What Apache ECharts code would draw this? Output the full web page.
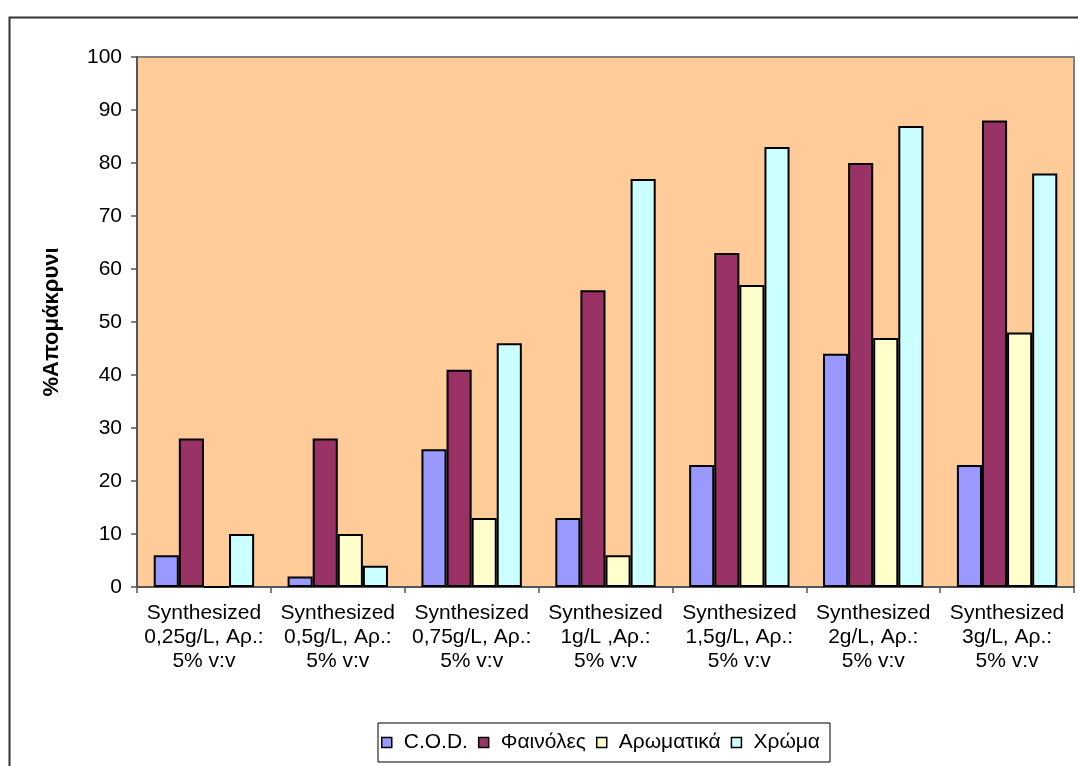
<!DOCTYPE html>
<html>
<head>
<meta charset="utf-8">
<script src="https://cdn.jsdelivr.net/npm/echarts@6/dist/echarts.min.js"></script>
<style>
  html, body { margin: 0; padding: 0; background: #ffffff; }
  #chart { width: 1078px; height: 766px; }
</style>
</head>
<body>
<div id="chart"></div>
<script>
// Sample labels (concentration, aromatic content)
const categories = [
  'Synthesized\n0,25g/L, Αρ.:\n5% v:v',
  'Synthesized\n0,5g/L, Αρ.:\n5% v:v',
  'Synthesized\n0,75g/L, Αρ.:\n5% v:v',
  'Synthesized\n1g/L ,Αρ.:\n5% v:v',
  'Synthesized\n1,5g/L, Αρ.:\n5% v:v',
  'Synthesized\n2g/L, Αρ.:\n5% v:v',
  'Synthesized\n3g/L, Αρ.:\n5% v:v'
];

// Removal percentages per parameter
const cod        = [6, 2, 26, 13, 23, 44, 23];
const phenols    = [28, 28, 41, 56, 63, 80, 88];
const aromatics  = [0, 10, 13, 6, 57, 47, 48];
const colour     = [10, 4, 46, 77, 83, 87, 78];

const seriesNames = ['C.O.D.', 'Φαινόλες', 'Αρωματικά', 'Χρώμα'];
const seriesColors = ['#9999FF', '#993366', '#FFFFCC', '#CCFFFF'];
const seriesData = [cod, phenols, aromatics, colour];

const FONT = '"Liberation Sans", Arial, sans-serif';

const chart = echarts.init(document.getElementById('chart'), null, { renderer: 'canvas' });

chart.setOption({
  animation: false,
  backgroundColor: '#ffffff',
  textStyle: { fontFamily: FONT, color: '#000' },
  graphic: [{
    type: 'rect',
    shape: { x: 9.5, y: 17.5, width: 1200, height: 900 },
    style: { fill: 'none', stroke: '#333333', lineWidth: 2 },
    z: 0
  }],
  grid: {
    left: 137, top: 57, right: 4, bottom: 179,
    show: true,
    backgroundColor: '#FFCC99',
    borderColor: '#808080',
    borderWidth: 2
  },
  legend: {
    data: seriesNames,
    left: 378, top: 723,
    orient: 'horizontal',
    padding: [9, 10, 9, 3],
    itemGap: 10,
    itemWidth: 10, itemHeight: 10,
    icon: 'rect',
    borderColor: '#000',
    borderWidth: 1,
    backgroundColor: '#fff',
    itemStyle: { borderColor: '#000', borderWidth: 1.5 },
    textStyle: { fontFamily: FONT, fontSize: 21, color: '#000', padding: [0, 0, 0, 7] }
  },
  xAxis: {
    type: 'category',
    data: categories,
    axisLine: { lineStyle: { color: '#555', width: 2 } },
    axisTick: { show: true, length: 6, lineStyle: { color: '#555', width: 1.5 } },
    axisLabel: {
      interval: 0,
      margin: 14,
      fontFamily: FONT,
      fontSize: 21,
      lineHeight: 24,
      color: '#000'
    },
    splitLine: { show: false }
  },
  yAxis: {
    type: 'value',
    min: 0, max: 100, interval: 10,
    name: '%Απομάκρυνι',
    nameLocation: 'middle',
    nameGap: 74,
    nameRotate: 90,
    nameTextStyle: { fontFamily: FONT, fontSize: 22, fontWeight: 'bold', color: '#000' },
    axisLine: { show: true, lineStyle: { color: '#555', width: 2 } },
    axisTick: { show: true, length: 6, lineStyle: { color: '#555', width: 1.5 } },
    axisLabel: { fontFamily: FONT, fontSize: 21, color: '#000', margin: 15 },
    splitLine: { show: false }
  },
  series: seriesNames.map((name, i) => ({
    name: name,
    type: 'bar',
    data: seriesData[i],
    barGap: '0%',
    barCategoryGap: '25%',
    itemStyle: { color: seriesColors[i], borderColor: '#000', borderWidth: 2 }
  }))
});
</script>
</body>
</html>
